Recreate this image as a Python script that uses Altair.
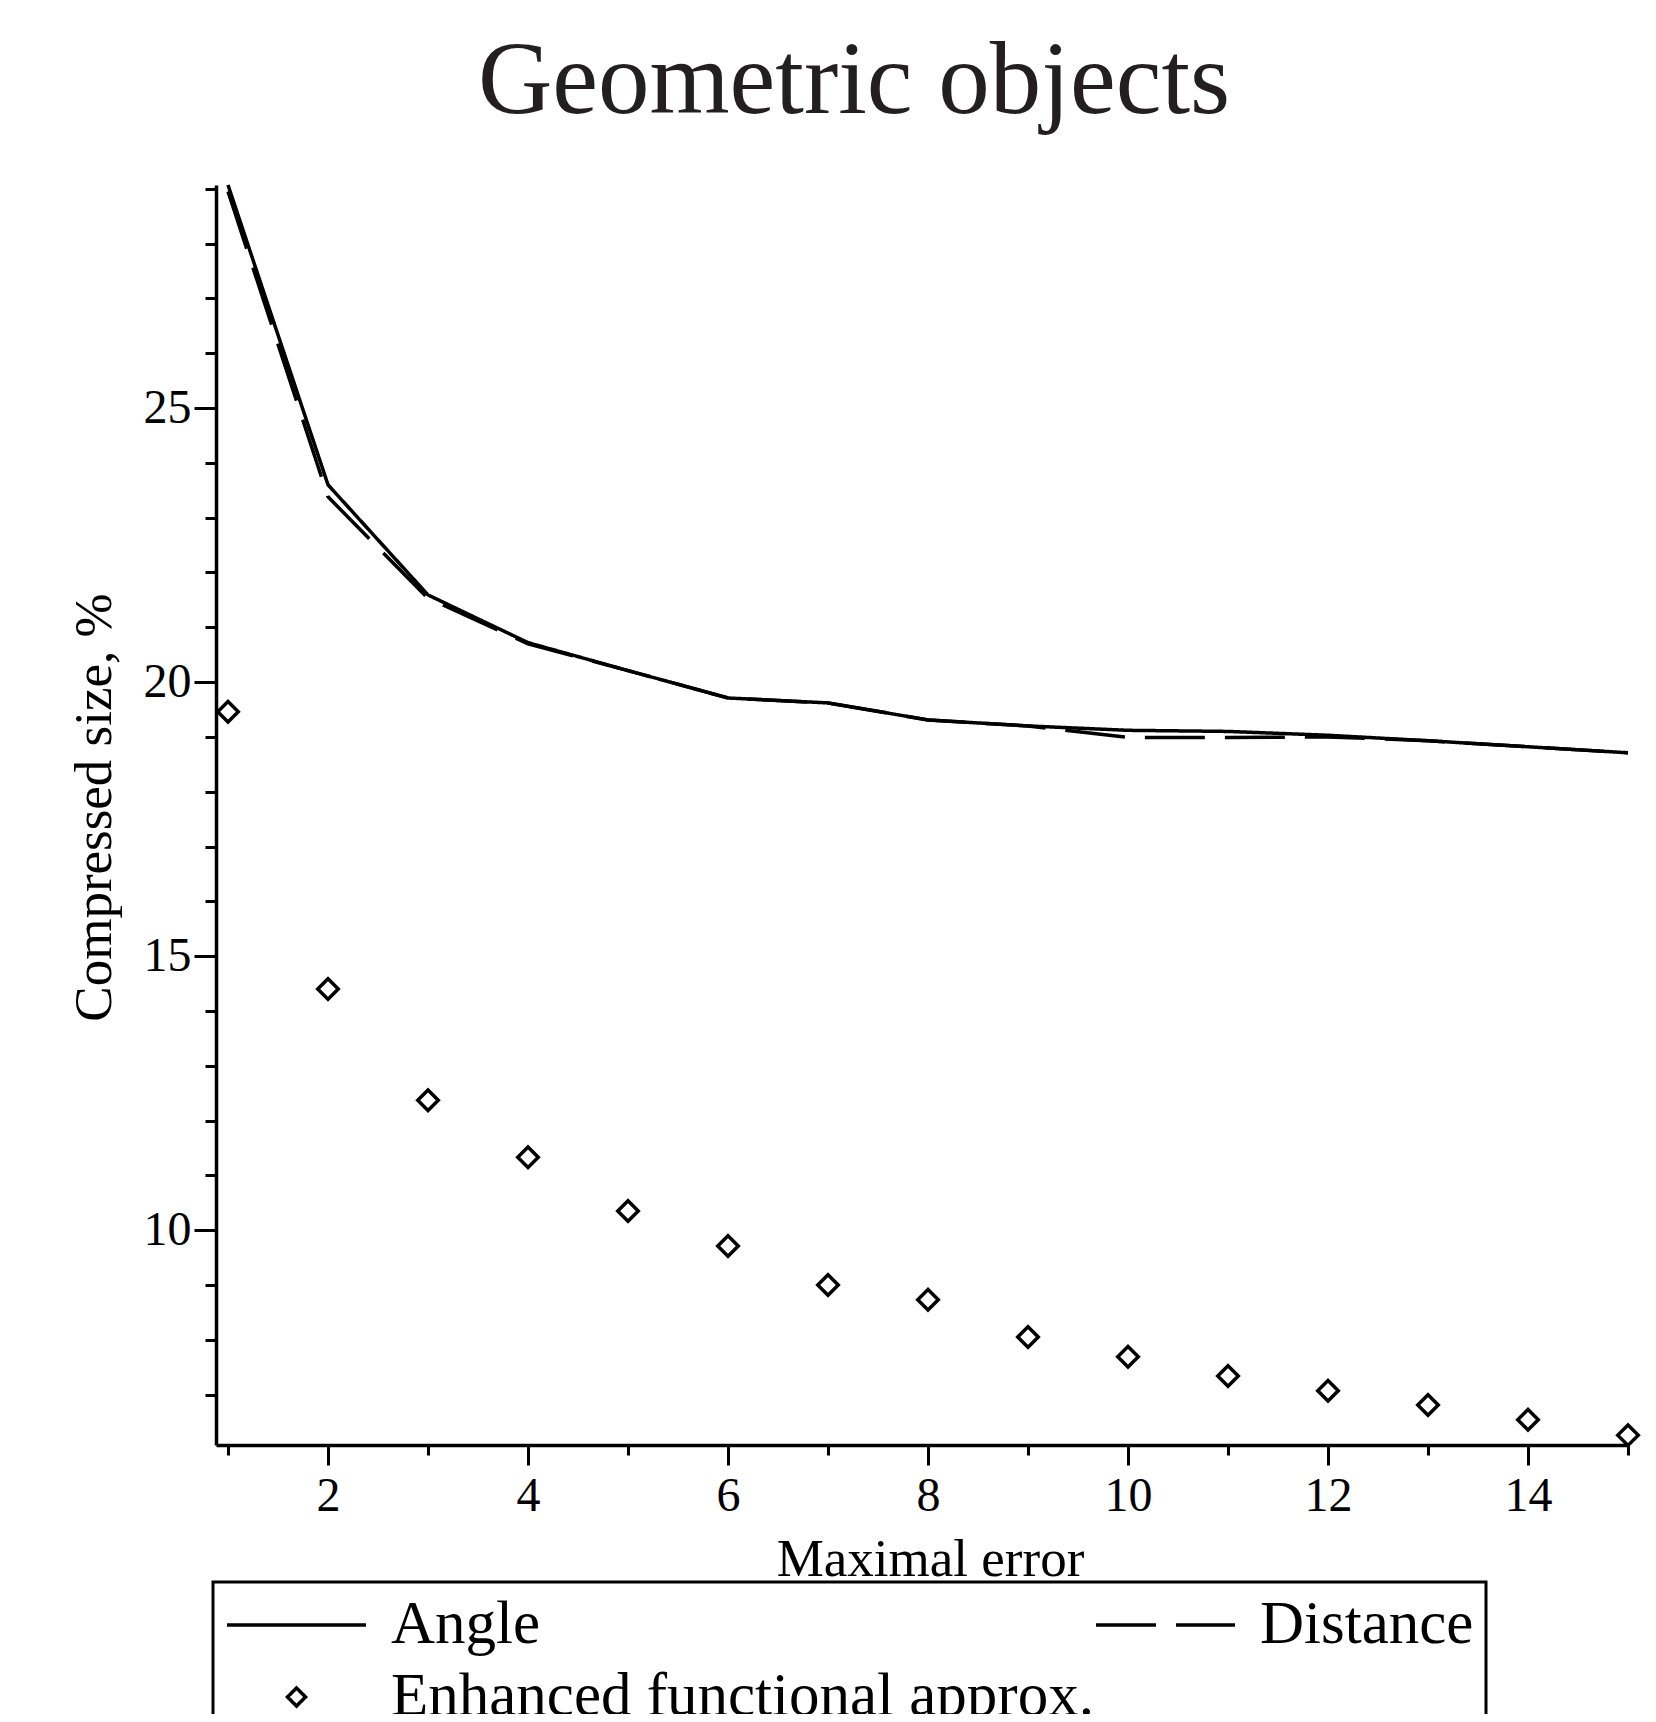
import altair as alt
import pandas as pd

# ---- data ----
x_vals = list(range(1, 16))
angle = [29.07, 23.60, 21.59, 20.72, 20.21, 19.71, 19.62, 19.31, 19.20, 19.12,
         19.10, 19.03, 18.93, 18.82, 18.71]
distance = [28.95, 23.38, 21.53, 20.70, 20.21, 19.71, 19.62, 19.31, 19.20, 18.99,
            18.99, 19.00, 18.93, 18.82, 18.71]
enhanced = [19.46, 14.40, 12.37, 11.33, 10.35, 9.71, 9.00, 8.73, 8.05, 7.69,
            7.34, 7.07, 6.81, 6.54, 6.26]
series_names = ["Angle", "Distance", "Enhanced functional approx."]
# legend fills column by column: this order gives row 1 = Angle | Distance
legend_order = ["Angle", "Enhanced functional approx.", "Distance"]
x_ticks = list(range(1, 16))
y_ticks = list(range(7, 30))

rows = []
for name, vals in zip(series_names, [angle, distance, enhanced]):
    for xv, yv in zip(x_vals, vals):
        rows.append({"x": xv, "y": yv, "series": name})
df = pd.DataFrame(rows)

FONT = "Liberation Serif"

x_enc = alt.X(
    "x:Q",
    scale=alt.Scale(domain=[0.88, 15], nice=False, zero=False),
    axis=alt.Axis(
        values=x_ticks,
        grid=False,
        domainColor="black", domainWidth=3.5,
        tickColor="black", tickWidth=3,
        tickSize={"condition": {"test": "datum.value % 2 === 0", "value": 20}, "value": 10},
        labelExpr="datum.value % 2 === 0 ? datum.label : ''",
        labelFont=FONT, labelFontSize=48, labelColor="black",
        labelPadding=7, labelFlush=False, labelOverlap=False,
        title="Maximal error",
        titleFont=FONT, titleFontSize=53, titleFontWeight="normal", titleColor="black",
        titleBaseline="alphabetic", titleAlign="center",
        titleX=714, titleY=130,
    ),
)

y_enc = alt.Y(
    "y:Q",
    scale=alt.Scale(domain=[6.08, 29.07], nice=False, zero=False),
    axis=alt.Axis(
        values=y_ticks,
        grid=False,
        domainColor="black", domainWidth=3.5,
        tickColor="black", tickWidth=3,
        tickSize={"condition": {"test": "datum.value % 5 === 0", "value": 22}, "value": 11},
        labelExpr="datum.value % 5 === 0 ? datum.label : ''",
        labelFont=FONT, labelFontSize=48, labelColor="black",
        labelPadding=3, labelFlush=False, labelOverlap=False,
        title="Compressed size, %",
        titleFont=FONT, titleFontSize=53, titleFontWeight="normal", titleColor="black",
        titleBaseline="alphabetic", titleAlign="center", titleAngle=270,
        titleX=-106, titleY=622,
    ),
)

legend = alt.Legend(
    title=None,
    orient="none",
    legendX=-3,
    legendY=1397,
    columns=2,
    symbolSize=19321,
    symbolType={"expr": "datum.value === 'Enhanced functional approx.' ? 'M0,-0.13L0.13,0L0,0.13L-0.13,0Z' : 'stroke'"},
    symbolDash={"expr": "datum.value === 'Distance' ? [60, 20] : [1, 0]"},
    symbolStrokeWidth=3.5,
    symbolStrokeColor="black",
    symbolFillColor="transparent",
    labelFont=FONT,
    labelFontSize=61,
    labelColor="black",
    labelOffset=23,
    labelLimit=2000,
    padding=12,
    strokeColor="black",
    clipHeight=62,
    rowPadding=10,
    columnPadding=0,
)

color_enc = alt.Color(
    "series:N",
    scale=alt.Scale(domain=legend_order, range=["black", "black", "black"]),
    legend=legend,
)

base = alt.Chart(df)

lines = base.mark_line(strokeWidth=3.5).encode(
    x=x_enc,
    y=y_enc,
    color=color_enc,
    strokeDash=alt.StrokeDash(
        "series:N",
        scale=alt.Scale(domain=["Angle", "Distance"], range=[[1, 0], [60, 20]]),
        legend=None,
    ),
).transform_filter(alt.FieldOneOfPredicate(field="series", oneOf=["Angle", "Distance"]))

points = base.mark_point(shape="diamond", size=420, filled=False, strokeWidth=3.5, opacity=1).encode(
    x=x_enc,
    y=y_enc,
    color=color_enc,
).transform_filter(alt.FieldEqualPredicate(field="series", equal="Enhanced functional approx."))

chart = alt.layer(lines, points).properties(
    width=1412,
    height=1260,
    title=alt.TitleParams(
        "Geometric objects",
        font=FONT, fontSize=103, fontWeight="normal", color="#231f20",
        anchor="middle", frame="group", dx=-68, dy=120, offset=69, baseline="alphabetic",
    ),
    padding={"left": 208, "top": 177, "right": 20, "bottom": 269},
    autosize=alt.AutoSizeParams(type="none"),
    background="white",
).configure_view(stroke=None).configure_legend(strokeWidth=3)

chart.save("out.html", embed_options={"renderer": "svg", "actions": False})
